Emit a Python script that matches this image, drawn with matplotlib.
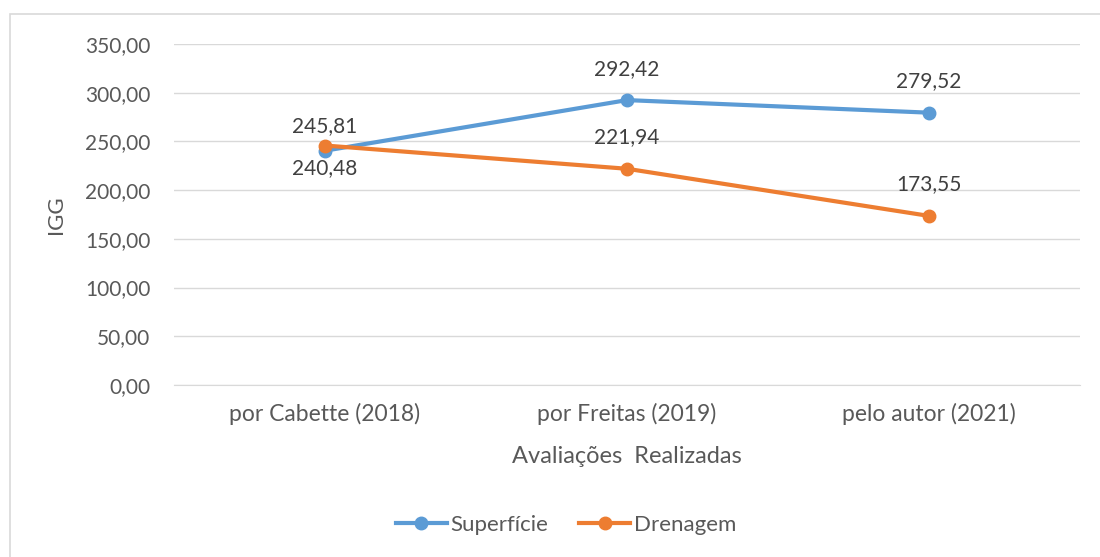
import matplotlib
matplotlib.use("Agg")
import matplotlib.pyplot as plt
from matplotlib.patches import Rectangle

categories = ["por Cabette (2018)", "por Freitas (2019)", "pelo autor (2021)"]
superficie = [240.48, 292.42, 279.52]
drenagem = [245.81, 221.94, 173.55]
yticks = [0, 50, 100, 150, 200, 250, 300, 350]

plt.rcParams['font.family'] = ['Lato', 'DejaVu Sans']
txt = '#595959'

fig = plt.figure(figsize=(11, 5.57), dpi=100)
fig.patches.append(Rectangle((10/1100, -0.05), 1.2, 1 - 14/557 + 0.05, transform=fig.transFigure,
                             fill=False, edgecolor='#d9d9d9', lw=1.2))
ax = fig.add_axes([174/1100, 1 - 385/557, 906/1100, (385 - 44)/557])

x = list(range(len(categories)))
ax.plot(x, superficie, color='#5B9BD5', lw=3, marker='o', ms=9, label='Superfície', zorder=3)
ax.plot(x, drenagem, color='#ED7D31', lw=3, marker='o', ms=9, label='Drenagem', zorder=4)

sup_off = [-17, 31, 32]
dre_off = [19, 32, 32]
for xi, v, o in zip(x, superficie, sup_off):
    ax.annotate(f"{v:.2f}".replace('.', ','), (xi, v), xytext=(0, o * 0.72), textcoords='offset points',
                ha='center', va='center', fontsize=15, color='#404040')
for xi, v, o in zip(x, drenagem, dre_off):
    ax.annotate(f"{v:.2f}".replace('.', ','), (xi, v), xytext=(0, o * 0.72), textcoords='offset points',
                ha='center', va='center', fontsize=15, color='#404040')

ax.set_xlim(-0.5, 2.5)
ax.set_ylim(0, 350)
ax.set_yticks(yticks)
ax.set_yticklabels([f"{t:.2f}".replace('.', ',') for t in yticks])
ax.set_xticks(x)
ax.set_xticklabels(categories)
ax.tick_params(length=0, colors=txt)
ax.tick_params(axis='y', pad=17, labelsize=15)
ax.tick_params(axis='x', pad=13, labelsize=16.5)
ax.grid(axis='y', color='#d9d9d9', lw=1)
ax.set_axisbelow(True)
for s in ['top', 'right', 'left']:
    ax.spines[s].set_visible(False)
ax.spines['bottom'].set_color('#d9d9d9')

ax.set_xlabel("Avaliações  Realizadas", fontsize=17, color=txt, labelpad=15)
ax.set_ylabel("IGG", fontsize=16, color=txt, labelpad=14)

leg = fig.legend(loc='center', bbox_to_anchor=(566/1100, 1 - 525/557), ncol=2, frameon=False,
                 fontsize=16, handlelength=2.3, columnspacing=1.4, handletextpad=0.15)
for t in leg.get_texts():
    t.set_color(txt)

fig.savefig("out.png", dpi=100)
